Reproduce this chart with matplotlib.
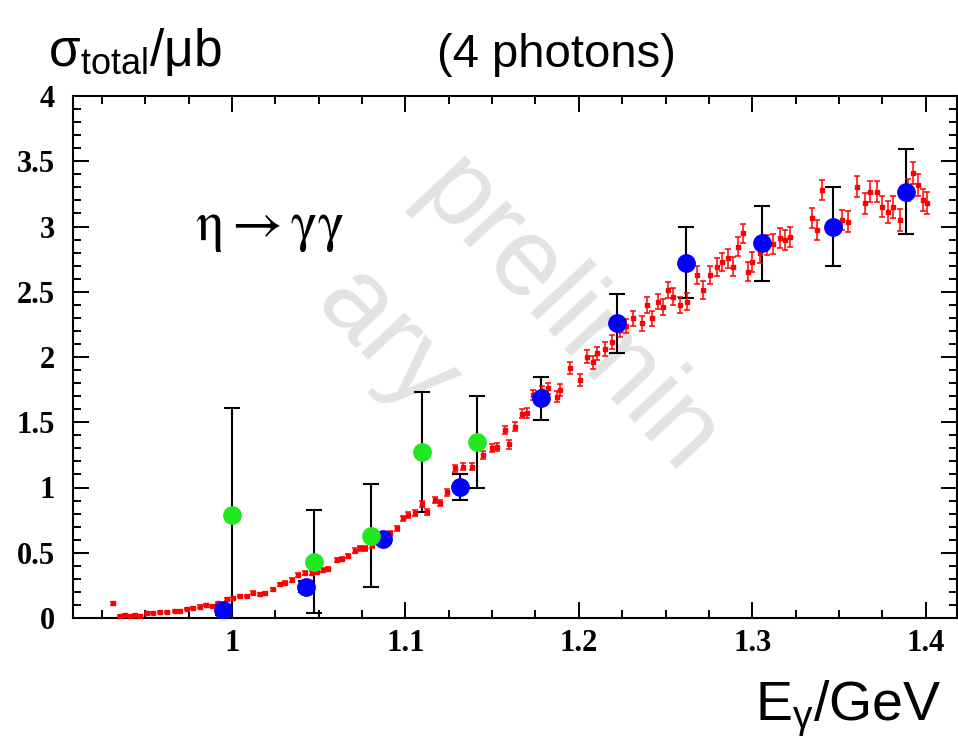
import matplotlib
matplotlib.use("Agg")
import matplotlib.pyplot as plt
from matplotlib.ticker import MultipleLocator, FuncFormatter

# ---- data -------------------------------------------------------------
# fine-binned measurement (red)
red_x = [0.9315, 0.9354, 0.9383, 0.9412, 0.9441, 0.9469, 0.9508, 0.9546, 0.9585, 0.9627,
         0.9671, 0.9700, 0.9742, 0.9777, 0.9815, 0.9850, 0.9883, 0.9919, 0.9969, 1.0007,
         1.0046, 1.0085, 1.0119, 1.0161, 1.0190, 1.0235, 1.0277, 1.0306, 1.0344, 1.0382,
         1.0421, 1.0460,
         1.0488, 1.0527, 1.0555, 1.0604, 1.0632, 1.0671, 1.0709, 1.0738, 1.0767, 1.0806,
         1.0844, 1.0882, 1.0911, 1.0950, 1.0988, 1.1017, 1.1055,
         1.1094, 1.1123, 1.1170, 1.1200, 1.1238, 1.1286, 1.1334, 1.1383, 1.1449, 1.1500,
         1.1530, 1.1574, 1.1600, 1.1632, 1.1670, 1.1700, 1.1738, 1.1790, 1.1824, 1.1873,
         1.1892, 1.1949, 1.2007, 1.2046, 1.2080, 1.2103, 1.2150, 1.2190, 1.2238, 1.2270,
         1.2314, 1.2363, 1.2392, 1.2420, 1.2459, 1.2487, 1.2516, 1.2545, 1.2584, 1.2622,
         1.2680, 1.2718, 1.2757, 1.2795, 1.2824, 1.2862, 1.2891, 1.2920, 1.2949, 1.2978,
         1.2997, 1.3045,
         1.3084, 1.3122, 1.3160, 1.3189, 1.3218, 1.3343, 1.3372, 1.3401, 1.3516, 1.3554,
         1.3603, 1.3651, 1.3679, 1.3718, 1.3747, 1.3785, 1.3814, 1.3853, 1.3901, 1.3929,
         1.3958, 1.3987, 1.4006]
red_y = [0.113, 0.015, 0.023, 0.015, 0.023, 0.015, 0.036, 0.041, 0.048, 0.048,
         0.056, 0.056, 0.067, 0.074, 0.087, 0.100, 0.094, 0.115, 0.143, 0.151,
         0.169, 0.169, 0.194, 0.182, 0.189, 0.220, 0.258, 0.268, 0.291, 0.330,
         0.343, 0.347,
         0.355, 0.368, 0.373, 0.444, 0.450, 0.475, 0.516, 0.534, 0.534, 0.559,
         0.585, 0.623, 0.649, 0.687, 0.764, 0.789, 0.802,
         0.874, 0.815, 0.904, 0.879, 0.962, 1.147, 1.160, 1.160, 1.249, 1.305,
         1.310, 1.441, 1.330, 1.466, 1.565, 1.570, 1.709, 1.740, 1.760, 1.696,
         1.747, 1.913, 1.824, 2.002, 1.960, 2.028, 2.060, 2.117, 2.207, 2.240,
         2.297, 2.258, 2.398, 2.297, 2.424, 2.386, 2.513, 2.462, 2.398, 2.424,
         2.628, 2.513, 2.628, 2.692, 2.730, 2.756, 2.692, 2.845, 2.948, 2.654,
         2.730, 2.795,
         2.860, 2.865, 2.909, 2.897, 2.922, 3.063, 2.973, 3.280, 3.050, 3.037,
         3.305, 3.178, 3.267, 3.267, 3.152, 3.113, 3.152, 3.050, 3.280, 3.408,
         3.318, 3.203, 3.178]
red_err = [0.010, 0.006, 0.006, 0.006, 0.006, 0.006, 0.007, 0.007, 0.007, 0.007,
           0.008, 0.008, 0.008, 0.008, 0.009, 0.009, 0.009, 0.010, 0.010, 0.010,
           0.011, 0.011, 0.011, 0.011, 0.012, 0.012, 0.012, 0.013, 0.013, 0.013,
           0.014, 0.014,
           0.014, 0.015, 0.015, 0.016, 0.016, 0.017, 0.017, 0.018, 0.018, 0.019,
           0.019, 0.020, 0.020, 0.021, 0.021, 0.022, 0.022,
           0.022, 0.022, 0.023, 0.024, 0.025, 0.026, 0.027, 0.028, 0.029, 0.030,
           0.031, 0.032, 0.034, 0.035, 0.036, 0.038, 0.039, 0.040, 0.041, 0.043,
           0.044, 0.045, 0.047, 0.048, 0.049, 0.050, 0.052, 0.053, 0.054, 0.055,
           0.056, 0.057, 0.058, 0.059, 0.060, 0.061, 0.062, 0.063, 0.064, 0.065,
           0.066, 0.067, 0.068, 0.069, 0.070, 0.071, 0.072, 0.073, 0.073, 0.074,
           0.075, 0.075,
           0.076, 0.076, 0.077, 0.077, 0.078, 0.078, 0.079, 0.080, 0.080, 0.081,
           0.081, 0.082, 0.082, 0.083, 0.083, 0.084, 0.084, 0.084, 0.085, 0.085,
           0.085, 0.086, 0.086]

# coarse-binned measurement (blue)
blue_x = [0.995, 1.0425, 1.0873, 1.1315, 1.178, 1.2219, 1.2618, 1.3055, 1.3468, 1.3887]
blue_y = [0.06, 0.24, 0.603, 1.006, 1.683, 2.258, 2.723, 2.871, 2.999, 3.267]
blue_err = [0.04, 0.04, 0.03, 0.10, 0.165, 0.225, 0.27, 0.285, 0.30, 0.325]

# older measurement (green)
green_x = [1.0002, 1.0473, 1.080, 1.1096, 1.1411]
green_y = [0.79, 0.43, 0.63, 1.27, 1.35]
green_err = [0.82, 0.395, 0.395, 0.46, 0.35]

x_major = [1.0, 1.1, 1.2, 1.3, 1.4]
y_major = [0, 0.5, 1, 1.5, 2, 2.5, 3, 3.5, 4]

# ---- figure -----------------------------------------------------------
W, H = 958, 744
fig = plt.figure(figsize=(W / 100, H / 100), dpi=100)
fig.patch.set_facecolor("white")
plt.rcParams["mathtext.fontset"] = "custom"
plt.rcParams["mathtext.rm"] = "Liberation Sans"
plt.rcParams["mathtext.it"] = "Liberation Sans:italic"

left, right, top, bottom = 72.7, 957.0, 96.0, 618.0
ax = fig.add_axes([left / W, 1 - bottom / H, (right - left) / W, (bottom - top) / H])
ax.set_xlim(0.9081, 1.4181)
ax.set_ylim(0, 4)

# watermark
wm = dict(transform=fig.transFigure, rotation=-47, ha="center", va="center",
          rotation_mode="anchor", fontsize=80, color="#e3e3e3",
          family="Liberation Sans", zorder=0.5)
ax.text(568 / W, 1 - 318 / H, "prelimin", **wm)
ax.text(386 / W, 1 - 342 / H, "ary", **wm)

# black error bars of coarse points
ax.errorbar(blue_x, blue_y, yerr=blue_err, fmt="none", ecolor="black",
            elinewidth=1.5, capsize=5.6, capthick=1.5, zorder=2)
ax.errorbar(green_x, green_y, yerr=green_err, fmt="none", ecolor="black",
            elinewidth=1.5, capsize=5.6, capthick=1.5, zorder=2)

# fine red points
ax.errorbar(red_x, red_y, yerr=red_err, fmt="s", color="#ff0000", ms=3.2,
            mec="#ff0000", elinewidth=1.1, capsize=2.2, capthick=1.1, zorder=3)

ax.plot(blue_x, blue_y, "o", color="#0000ff", ms=12.5, mec="#0000ff", zorder=4)
ax.plot(green_x, green_y, "o", color="#22e822", ms=12.5, mec="#22e822", zorder=5)

# axes styling
for s in ax.spines.values():
    s.set_linewidth(1.5)
ax.xaxis.set_major_locator(plt.FixedLocator(x_major))
ax.xaxis.set_minor_locator(MultipleLocator(0.025))
ax.yaxis.set_major_locator(plt.FixedLocator(y_major))
ax.yaxis.set_minor_locator(MultipleLocator(0.1))
fmt = FuncFormatter(lambda v, p: f"{v:g}")
ax.xaxis.set_major_formatter(fmt)
ax.yaxis.set_major_formatter(fmt)
ax.tick_params(which="both", direction="in", top=True, right=True, width=1.4)
ax.tick_params(which="major", length=11.5)
ax.tick_params(which="minor", length=6)
ax.tick_params(axis="x", which="major", pad=8)
ax.tick_params(axis="y", which="major", pad=13)
for lab in ax.get_xticklabels() + ax.get_yticklabels():
    lab.set_fontfamily("Liberation Serif")
    lab.set_fontweight("bold")
    lab.set_fontsize(22)

# labels
fig.text(48 / W, 1 - 66 / H, r"$\mathrm{\sigma_{total}/\mu b}$", fontsize=37,
         ha="left", va="baseline")
fig.text(437 / W, 1 - 67 / H, "(4 photons)", fontsize=34, family="Liberation Sans",
         ha="left", va="baseline")
fig.text(755 / W, 1 - 720 / H, r"$\mathrm{E_{\gamma}/GeV}$", fontsize=40,
         ha="left", va="baseline")
fig.text(195 / W, 1 - 240 / H, r"$\mathrm{\eta\rightarrow\gamma\gamma}$",
         fontsize=40, math_fontfamily="stix", ha="left", va="baseline")

fig.savefig("out.png", dpi=100, facecolor="white")
